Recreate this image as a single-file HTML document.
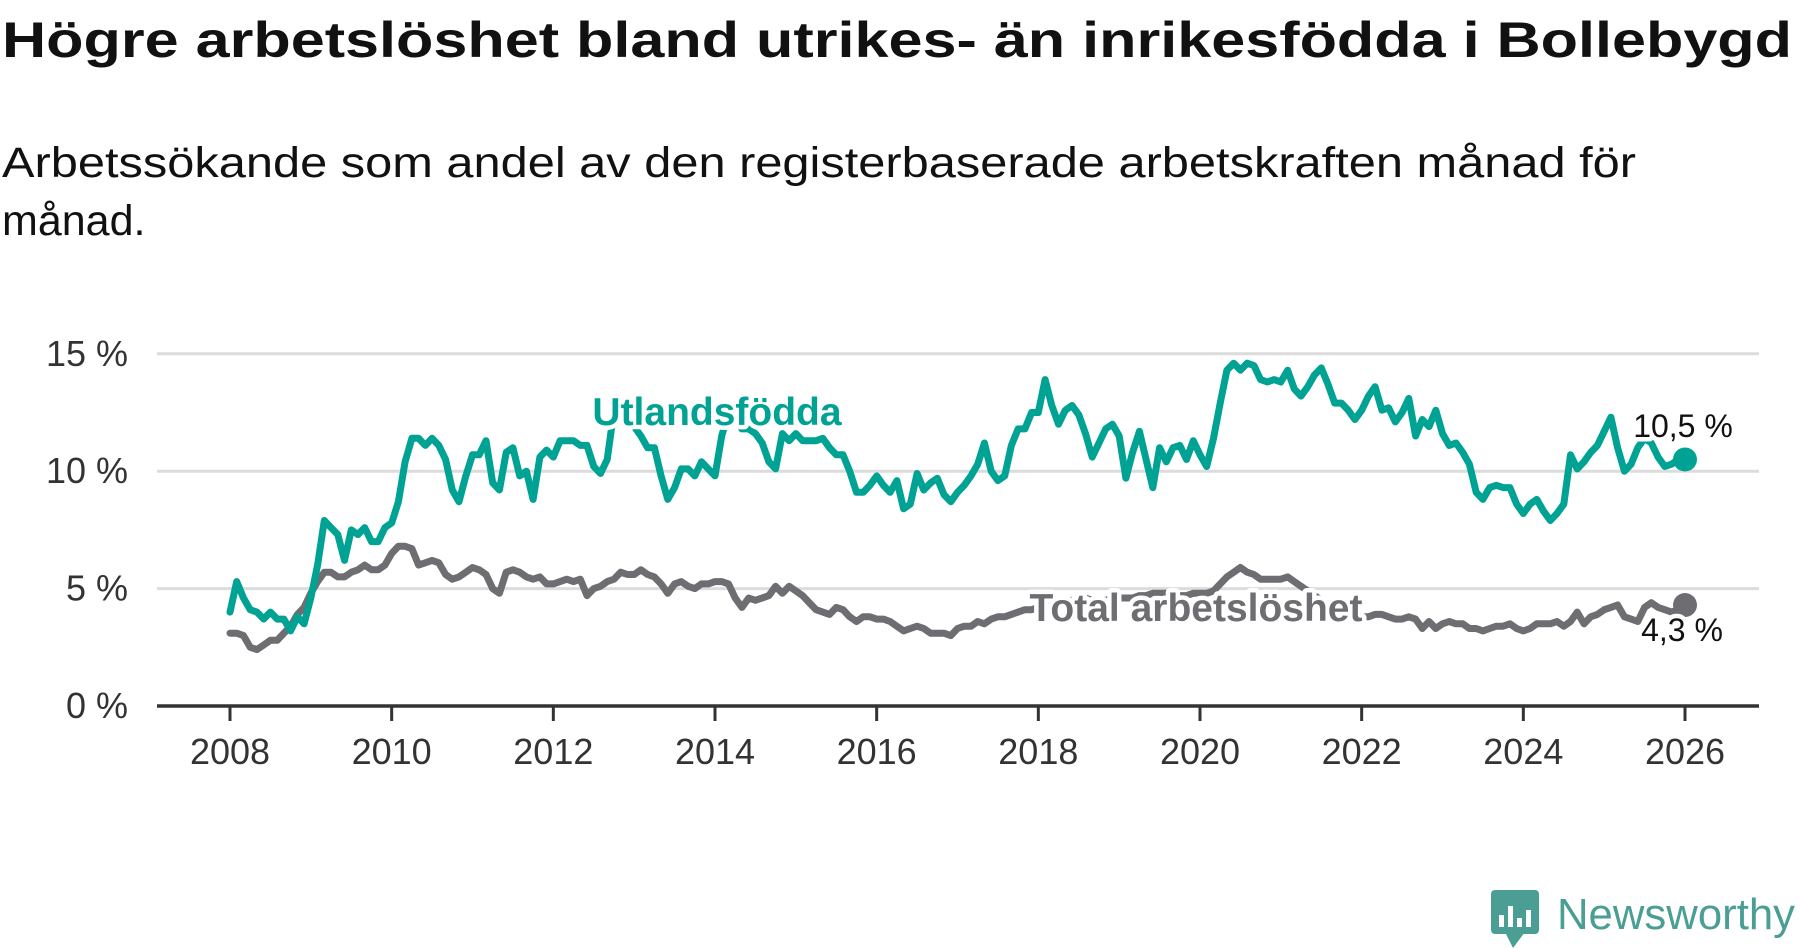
<!DOCTYPE html>
<html><head><meta charset="utf-8"><style>
html,body{margin:0;padding:0;background:#fff;}
svg{display:block;font-family:"Liberation Sans","DejaVu Sans",sans-serif;}
</style></head><body>
<svg id="chart" width="1800" height="948" viewBox="0 0 1800 948" xmlns="http://www.w3.org/2000/svg">
<text x="2" y="57" font-size="50" font-weight="bold" fill="#111" textLength="1790" lengthAdjust="spacingAndGlyphs">Högre arbetslöshet bland utrikes- än inrikesfödda i Bollebygd</text>
<text x="2" y="177" font-size="43" fill="#111" textLength="1634" lengthAdjust="spacingAndGlyphs">Arbetssökande som andel av den registerbaserade arbetskraften månad för</text>
<text x="2" y="235" font-size="43" fill="#111">månad.</text>
<g id="grid"></g>
<g id="series"></g>
<g id="labels"></g>
<g>
  <rect x="1491" y="890" width="48" height="44" rx="4" fill="#4a9e93"/>
  <polygon points="1505,932 1525,932 1513,948" fill="#4a9e93"/>
  <rect x="1499" y="915" width="5" height="12" fill="#fff"/>
  <rect x="1508" y="906" width="5" height="21" fill="#fff"/>
  <rect x="1517" y="918" width="5" height="9" fill="#fff"/>
  <rect x="1526" y="910" width="5" height="17" fill="#fff"/>
  <text x="1557" y="929" font-size="44" fill="#4a9e93" textLength="238" lengthAdjust="spacingAndGlyphs">Newsworthy</text>
</g>
</svg>
<script>
const years = [2008,2010,2012,2014,2016,2018,2020,2022,2024,2026];
const yTicks = [0,5,10,15];
const yTickLabels = ["0 %","5 %","10 %","15 %"];
const foreignBorn = [
4.0,5.3,4.6,4.1,4.0,3.7,4.0,3.7,3.7,3.2,3.8,3.5,
4.6,6.0,7.9,7.6,7.3,6.2,7.5,7.3,7.6,7.0,7.0,7.6,
7.8,8.7,10.4,11.4,11.4,11.1,11.4,11.1,10.5,9.2,8.7,9.8,
10.7,10.7,11.3,9.5,9.2,10.8,11.0,9.8,10.0,8.8,10.6,10.9,
10.6,11.3,11.3,11.3,11.1,11.1,10.2,9.9,10.5,12.6,13.0,12.4,
11.9,11.5,11.0,11.0,9.8,8.8,9.3,10.1,10.1,9.8,10.4,10.1,
9.8,11.5,12.5,12.3,11.8,11.8,11.6,11.2,10.4,10.1,11.6,11.3,
11.6,11.3,11.3,11.3,11.4,11.0,10.7,10.7,10.0,9.1,9.1,9.4,
9.8,9.4,9.1,9.6,8.4,8.6,9.9,9.2,9.5,9.7,9.0,8.7,
9.1,9.4,9.8,10.3,11.2,10.0,9.6,9.8,11.1,11.8,11.8,12.5,
12.5,13.9,12.8,12.0,12.6,12.8,12.4,11.6,10.6,11.2,11.8,12.0,
11.5,9.7,10.8,11.7,10.5,9.3,11.0,10.4,11.0,11.1,10.5,11.3,
10.7,10.2,11.4,12.9,14.3,14.6,14.3,14.6,14.5,13.9,13.8,13.9,
13.8,14.3,13.5,13.2,13.6,14.1,14.4,13.7,12.9,12.9,12.6,12.2,
12.6,13.2,13.6,12.6,12.7,12.1,12.5,13.1,11.5,12.2,11.9,12.6,
11.6,11.1,11.2,10.8,10.3,9.1,8.8,9.3,9.4,9.3,9.3,8.6,
8.2,8.6,8.8,8.3,7.9,8.2,8.6,10.7,10.1,10.4,10.8,11.1,
11.7,12.3,11.0,10.0,10.3,11.0,11.4,11.2,10.6,10.2,10.3,10.5,
10.5];
const total = [
3.1,3.1,3.0,2.5,2.4,2.6,2.8,2.8,3.1,3.4,3.9,4.2,
4.8,5.3,5.7,5.7,5.5,5.5,5.7,5.8,6.0,5.8,5.8,6.0,
6.5,6.8,6.8,6.7,6.0,6.1,6.2,6.1,5.6,5.4,5.5,5.7,
5.9,5.8,5.6,5.0,4.8,5.7,5.8,5.7,5.5,5.4,5.5,5.2,
5.2,5.3,5.4,5.3,5.4,4.7,5.0,5.1,5.3,5.4,5.7,5.6,
5.6,5.8,5.6,5.5,5.2,4.8,5.2,5.3,5.1,5.0,5.2,5.2,
5.3,5.3,5.2,4.6,4.2,4.6,4.5,4.6,4.7,5.1,4.8,5.1,
4.9,4.7,4.4,4.1,4.0,3.9,4.2,4.1,3.8,3.6,3.8,3.8,
3.7,3.7,3.6,3.4,3.2,3.3,3.4,3.3,3.1,3.1,3.1,3.0,
3.3,3.4,3.4,3.6,3.5,3.7,3.8,3.8,3.9,4.0,4.1,4.1,
4.2,4.3,4.3,4.3,4.4,4.5,4.5,4.6,4.5,4.5,4.5,4.6,
4.6,4.6,4.6,4.7,4.7,4.8,4.8,4.8,4.8,4.7,4.7,4.8,
4.8,4.8,4.9,5.2,5.5,5.7,5.9,5.7,5.6,5.4,5.4,5.4,
5.4,5.5,5.3,5.1,4.9,4.7,4.5,4.3,4.1,4.0,3.9,3.8,
3.8,3.8,3.9,3.9,3.8,3.7,3.7,3.8,3.7,3.3,3.6,3.3,
3.5,3.6,3.5,3.5,3.3,3.3,3.2,3.3,3.4,3.4,3.5,3.3,
3.2,3.3,3.5,3.5,3.5,3.6,3.4,3.6,4.0,3.5,3.8,3.9,
4.1,4.2,4.3,3.8,3.7,3.6,4.2,4.4,4.2,4.1,4.0,4.1,
4.3];
const seriesNames = ["Utlandsfödda","Total arbetslöshet"];
const endLabels = ["10,5 %","4,3 %"];

const NS="http://www.w3.org/2000/svg";
const X0=230, X1=1685, T0=2008, T1=2026;
const Y0=706, PX_PER=117.4/5;
function xScale(t){return X0+(t-T0)/(T1-T0)*(X1-X0);}
function yScale(v){return Y0-v*PX_PER;}
function mk(tag,attrs,parent){const e=document.createElementNS(NS,tag);for(const k in attrs)e.setAttribute(k,attrs[k]);parent.appendChild(e);return e;}
const grid=document.getElementById('grid'), ser=document.getElementById('series'), lab=document.getElementById('labels');

yTicks.forEach((v,i)=>{
  if(v>0){
    const g=mk('line',{x1:157,x2:1759,y1:yScale(v),y2:yScale(v),stroke:'#dcdcdc','stroke-width':3},grid);
    
    
  }
  const t=mk('text',{x:128,y:yScale(v)+12,'text-anchor':'end','font-size':36,fill:'#333'},grid);
  
  
  t.textContent=yTickLabels[i];
});
const ax=mk('line',{x1:157,x2:1759,y1:Y0,y2:Y0,stroke:'#333','stroke-width':3.5},grid);


years.forEach(y=>{
  const tk=mk('line',{x1:xScale(y),x2:xScale(y),y1:Y0,y2:Y0+15,stroke:'#333','stroke-width':3},grid);
  
  
  const t=mk('text',{x:xScale(y),y:764,'text-anchor':'middle','font-size':36,fill:'#333'},grid);
  
  
  t.textContent=y;
});

function drawLine(data,color,name){
  const pts=data.map((v,i)=>xScale(T0+i/12).toFixed(1)+','+yScale(v).toFixed(1)).join(' ');
  const p=mk('polyline',{points:pts,fill:'none',stroke:color,'stroke-width':7,'stroke-linejoin':'round','stroke-linecap':'round'},ser);
  
  
  const last=data.length-1;
  const c=mk('circle',{cx:xScale(T0+last/12),cy:yScale(data[last]),r:12,fill:color},ser);
  
  
}
drawLine(total,'#6d6d72','total-line');
drawLine(foreignBorn,'#00a393','foreign-born-line');

function label(txt,x,y,color,size,weight,anchor,name){
  const t=mk('text',{x:x,y:y,'text-anchor':anchor,'font-size':size,'font-weight':weight,fill:color,stroke:'#fff','stroke-width':9,'stroke-linejoin':'round','paint-order':'stroke'},lab);
  
  
  t.textContent=txt;
}
label(seriesNames[0],717,425,'#00a393',39,'bold','middle','foreign-born-label');
label(seriesNames[1],1196,621,'#6d6d72',39,'bold','middle','total-label');
label(endLabels[0],1683,437,'#111',32,'normal','middle','foreign-born-end-value');
label(endLabels[1],1682,641,'#111',32,'normal','middle','total-end-value');
</script>
</body></html>
